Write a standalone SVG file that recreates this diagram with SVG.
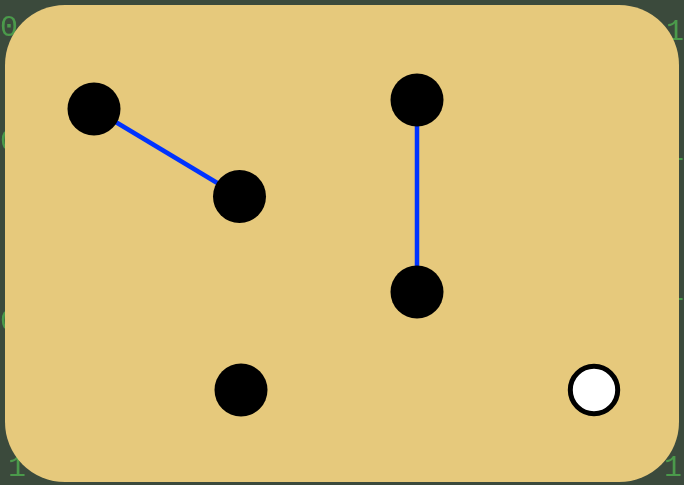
<svg xmlns="http://www.w3.org/2000/svg" width="684" height="485" viewBox="0 0 684 485">
  <defs>
    <filter id="blur" x="-20%" y="-20%" width="140%" height="140%">
      <feGaussianBlur stdDeviation="0.7"/>
    </filter>
  </defs>
  <style>
    .bg { fill: #3b4a3c; }
    .digits { font-family: "Liberation Mono", "DejaVu Sans Mono", monospace; font-size: 30px; fill: #4fae4f; opacity: 0.8; }
    .panel { fill: #e6c97c; }
    .node { fill: #000000; }
    .open { fill: #ffffff; stroke: #000000; stroke-width: 5; }
    .edge { stroke: #0033ff; stroke-width: 4.5; fill: none; }
  </style>
  <rect class="bg" x="0" y="0" width="684" height="485"/>
  <g id="background-digits" class="digits" filter="url(#blur)">
    <text x="0" y="36">0</text>
    <text x="0" y="150">0</text>
    <text x="0" y="330">0</text>
    <text x="646" y="40">0</text>
    <text x="666" y="40">1</text>
    <text x="666" y="160">1</text>
    <text x="666" y="300">1</text>
    <text x="8" y="476">1</text>
    <text x="664" y="476">1</text>
  </g>
  <rect class="panel" x="5" y="5" width="674" height="477" rx="60" ry="60"/>
  <g id="connectors">
    <line class="edge" x1="94" y1="109" x2="239" y2="196"/>
    <line class="edge" x1="417" y1="100" x2="417" y2="292"/>
  </g>
  <g id="n1"><circle class="node" cx="94" cy="109" r="26.5"/></g>
  <g id="n2"><circle class="node" cx="239.5" cy="196.5" r="26.5"/></g>
  <g id="n3"><circle class="node" cx="417" cy="100" r="26.5"/></g>
  <g id="n4"><circle class="node" cx="417" cy="292" r="26.5"/></g>
  <g id="n5"><circle class="node" cx="241" cy="390" r="26.5"/></g>
  <g id="n6"><circle class="open" cx="594" cy="390" r="23.7"/></g>
</svg>
